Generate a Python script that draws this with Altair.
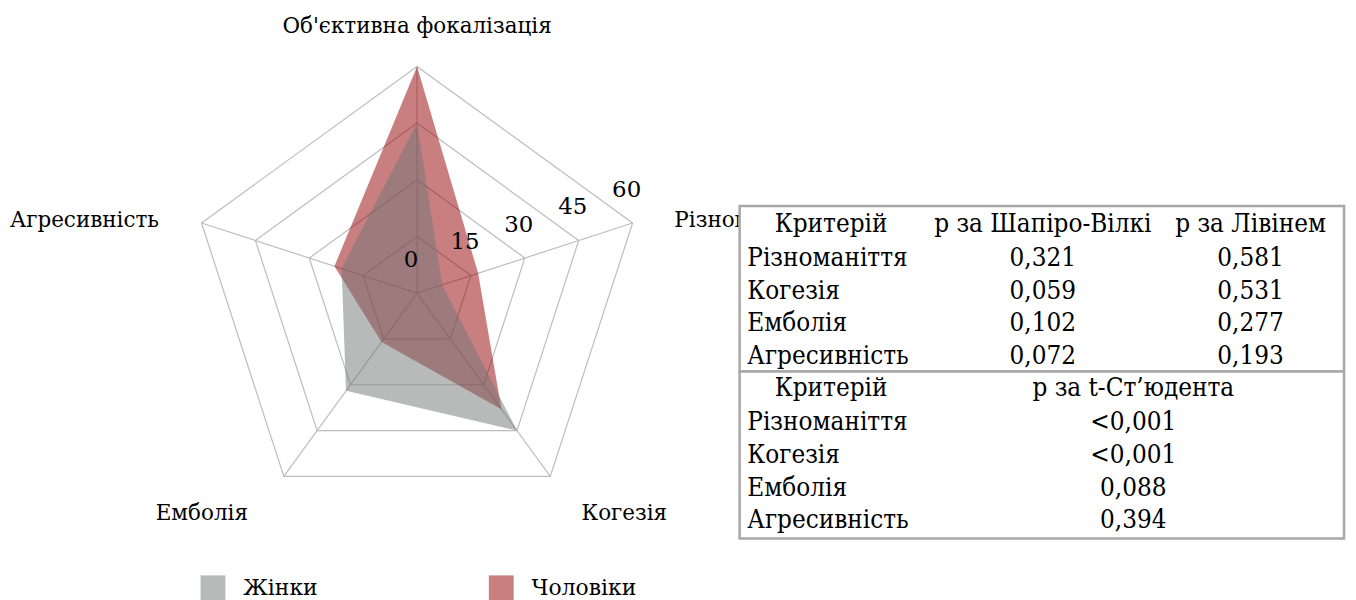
import altair as alt
import pandas as pd
import numpy as np

# ---------------- data ----------------
axis_names = ["Об'єктивна фокалізація", "Різноманіття", "Когезія", "Емболія", "Агресивність"]
series_names = ["Жінки", "Чоловіки"]
women = [45, 7, 45, 32, 21]
men = [60, 17, 38, 16, 23]
series_colors = ["#717575", "#930002"]
grid_levels = [15, 30, 45, 60]
tick_values = [0, 15, 30, 45, 60]

criteria = ["Різноманіття", "Когезія", "Емболія", "Агресивність"]
p_shapiro = ["0,321", "0,059", "0,102", "0,072"]
p_levene = ["0,581", "0,531", "0,277", "0,193"]
p_student = ["<0,001", "<0,001", "0,088", "0,394"]
header1 = ["Критерій", "p за Шапіро-Вілкі", "p за Лівінем"]
header2 = ["Критерій", "p за t-Ст’юдента"]

# ---------------- layout ----------------
FONT = "DejaVu Serif"
TABLE_FONT = "DejaVu Serif Condensed, DejaVu Serif"
LABEL_SIZE = 21.6
TICK_SIZE = 23
TABLE_SIZE = 26
W, H = 1348, 592
PX_PER_UNIT = 3.8
CX, CY = 411.5, 285.0
xdom = [-CX / PX_PER_UNIT, (W - CX) / PX_PER_UNIT]
ydom = [-(H - CY) / PX_PER_UNIT, CY / PX_PER_UNIT]
XS = alt.Scale(domain=xdom, nice=False, zero=False)
YS = alt.Scale(domain=ydom, nice=False, zero=False)

angles = [np.deg2rad(90 - 72 * i) for i in range(len(axis_names))]


def pt(v, i):
    return v * np.cos(angles[i]), v * np.sin(angles[i])


poly_rows = []
for s, vals in zip(series_names, [women, men]):
    for i, v in enumerate(vals):
        x, y = pt(v, i)
        poly_rows.append({"series": s, "i": i, "x": x, "y": y})
poly = pd.DataFrame(poly_rows)

ring_rows = []
for lv in grid_levels:
    for i in range(len(axis_names)):
        x, y = pt(lv, i)
        ring_rows.append({"level": lv, "i": i, "x": x, "y": y})
rings = pd.DataFrame(ring_rows)

spokes = pd.DataFrame([
    {"x": 0.0, "y": 0.0, "x2": pt(grid_levels[-1], i)[0], "y2": pt(grid_levels[-1], i)[1]}
    for i in range(len(axis_names))
])

ticks = pd.DataFrame([
    {"x": pt(t, 1)[0], "y": pt(t, 1)[1], "label": str(t)} for t in tick_values
])

color_scale = alt.Scale(domain=series_names, range=series_colors)

ring_layer = alt.Chart(rings).mark_line(
    interpolate="linear-closed", color="#bdbdbd", strokeWidth=1.2
).encode(
    x=alt.X("x:Q", scale=XS, axis=None),
    y=alt.Y("y:Q", scale=YS, axis=None),
    detail="level:N",
    order="i:Q",
)

spoke_layer = alt.Chart(spokes).mark_rule(color="#bdbdbd", strokeWidth=1.2).encode(
    x=alt.X("x:Q", scale=XS, axis=None),
    y=alt.Y("y:Q", scale=YS, axis=None),
    x2="x2:Q",
    y2="y2:Q",
)


def poly_layer(name):
    return alt.Chart(poly[poly.series == name]).mark_line(
        filled=True, interpolate="linear-closed", opacity=0.5, strokeWidth=0
    ).encode(
        x=alt.X("x:Q", scale=XS, axis=None),
        y=alt.Y("y:Q", scale=YS, axis=None),
        order="i:Q",
        color=alt.Color(
            "series:N",
            scale=color_scale,
            legend=alt.Legend(
                title=None,
                orient="none",
                legendX=193.7,
                legendY=569,
                direction="horizontal",
                symbolType="square",
                symbolSize=625,
                symbolStrokeWidth=0,
                labelFont=FONT,
                labelFontSize=22,
                labelColor="black",
                labelOffset=18,
                columnPadding=172,
            ),
        ),
    )


tick_layer = alt.Chart(ticks).mark_text(
    font=FONT, fontSize=TICK_SIZE, color="black", dx=-6, dy=-33.5, align="center", baseline="middle"
).encode(
    x=alt.X("x:Q", scale=XS, axis=None),
    y=alt.Y("y:Q", scale=YS, axis=None),
    text="label:N",
)

label_style = [
    (0, -40, "center"),
    (42, -2, "left"),
    (74.5, 37.5, "center"),
    (-82.5, 37.5, "center"),
    (-42.7, -2, "right"),
]
label_layers = []
for i, name in enumerate(axis_names):
    x, y = pt(grid_levels[-1], i)
    dx, dy, al = label_style[i]
    label_layers.append(
        alt.Chart(pd.DataFrame([{"x": x, "y": y, "label": name}])).mark_text(
            font=FONT, fontSize=LABEL_SIZE, color="black", dx=dx, dy=dy, align=al, baseline="middle"
        ).encode(
            x=alt.X("x:Q", scale=XS, axis=None),
            y=alt.Y("y:Q", scale=YS, axis=None),
            text="label:N",
        )
    )

radar = alt.layer(
    ring_layer, spoke_layer, poly_layer("Чоловіки"), poly_layer("Жінки"), tick_layer, *label_layers
)

box_x0, box_x1 = 736, 1344
boxes = pd.DataFrame([
    {"x": box_x0, "x2": box_x1, "y": 197.5, "y2": 364},
    {"x": box_x0, "x2": box_x1, "y": 364, "y2": 532},
])
box_layer = alt.Chart(boxes).mark_rect(fill="white", stroke="#a8a8a8", strokeWidth=2.5).encode(
    x=alt.X("x:Q", scale=None, axis=None),
    x2="x2:Q",
    y=alt.Y("y:Q", scale=None, axis=None),
    y2="y2:Q",
)

sec1_y = [224, 257.5, 290.5, 323.5, 356]
sec2_y = [389, 423, 456, 489, 521]
left_x = 743.7
crit_x = 828
col_x1 = [1041, 1250]
col_x2 = [1132]

left_rows, center_rows = [], []
center_rows.append({"px": crit_x, "py": sec1_y[0], "t": header1[0]})
center_rows.append({"px": col_x1[0], "py": sec1_y[0], "t": header1[1]})
center_rows.append({"px": col_x1[1], "py": sec1_y[0], "t": header1[2]})
for k, c in enumerate(criteria):
    left_rows.append({"px": left_x, "py": sec1_y[k + 1], "t": c})
    center_rows.append({"px": col_x1[0], "py": sec1_y[k + 1], "t": p_shapiro[k]})
    center_rows.append({"px": col_x1[1], "py": sec1_y[k + 1], "t": p_levene[k]})
center_rows.append({"px": crit_x, "py": sec2_y[0], "t": header2[0]})
center_rows.append({"px": col_x2[0], "py": sec2_y[0], "t": header2[1]})
for k, c in enumerate(criteria):
    left_rows.append({"px": left_x, "py": sec2_y[k + 1], "t": c})
    center_rows.append({"px": col_x2[0], "py": sec2_y[k + 1], "t": p_student[k]})


def table_text(rows, align):
    return alt.Chart(pd.DataFrame(rows)).mark_text(
        font=TABLE_FONT, fontSize=TABLE_SIZE, color="black", align=align, baseline="alphabetic"
    ).encode(
        x=alt.X("px:Q", scale=None, axis=None),
        y=alt.Y("py:Q", scale=None, axis=None),
        text="t:N",
    )


table = alt.layer(box_layer, table_text(left_rows, "left"), table_text(center_rows, "center"))

chart = alt.layer(radar, table).resolve_scale(x="independent", y="independent").properties(
    width=W, height=H, padding=0, autosize=alt.AutoSizeParams(type="none"), background="white"
).configure_view(stroke="transparent", strokeWidth=0)

chart.save("out.html", embed_options={"renderer": "svg", "actions": False})
